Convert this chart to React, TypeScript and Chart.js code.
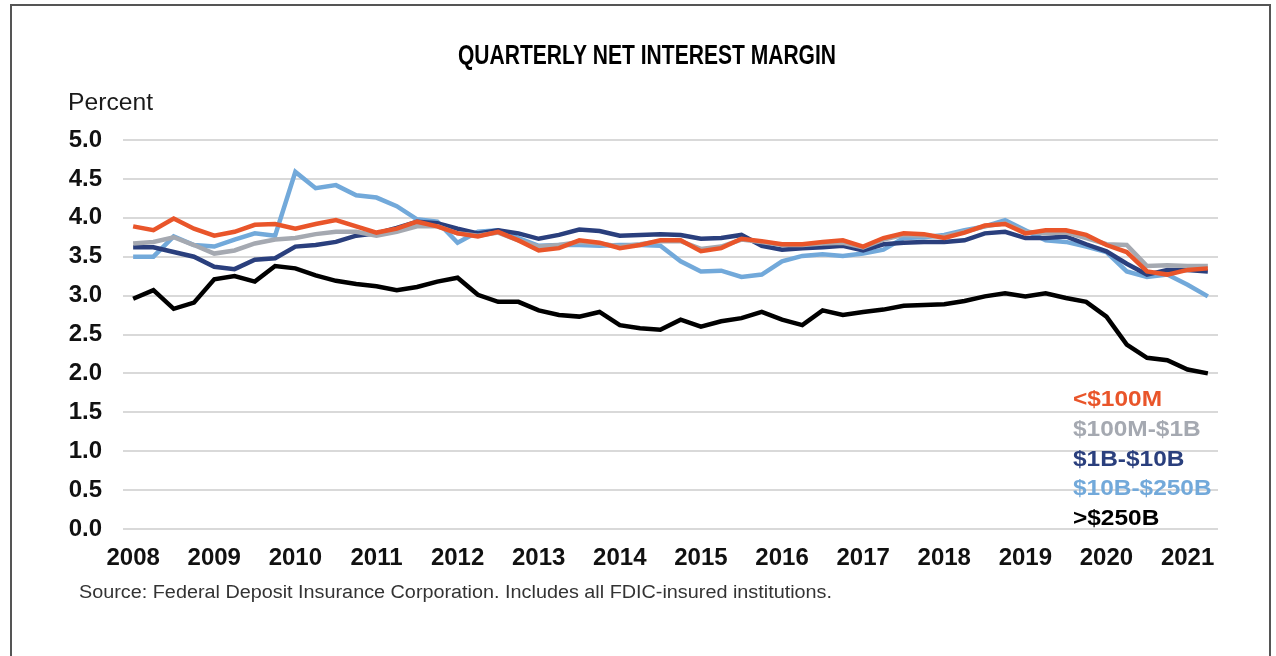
import React, { useEffect, useRef } from "react";
import { Chart, registerables } from "chart.js";

Chart.register(...registerables);

const titleText = "QUARTERLY NET INTEREST MARGIN";
const yAxisTitle = "Percent";
const sourceText = "Source: Federal Deposit Insurance Corporation. Includes all FDIC-insured institutions.";

const years = ["2008", "2009", "2010", "2011", "2012", "2013", "2014", "2015", "2016", "2017", "2018", "2019", "2020", "2021"];
const quarterNames = ["Q1", "Q2", "Q3", "Q4"];
const quarterCount = 54;

const yTicks = [0, 0.5, 1, 1.5, 2, 2.5, 3, 3.5, 4, 4.5, 5];

const seriesNames = ["<$100M", "$100M-$1B", "$1B-$10B", "$10B-$250B", ">$250B"];
const seriesColors = ["#E9552A", "#A5A9B1", "#2A3F7D", "#72A9DA", "#000000"];

const under100M = [
  3.89, 3.84, 3.99, 3.86, 3.77, 3.82, 3.91, 3.92, 3.86, 3.92, 3.97, 3.89, 3.81, 3.86,
  3.95, 3.89, 3.80, 3.76, 3.82, 3.71, 3.58, 3.61, 3.71, 3.68, 3.61, 3.65, 3.71, 3.71,
  3.57, 3.61, 3.73, 3.70, 3.66, 3.66, 3.69, 3.71, 3.63, 3.74, 3.80, 3.79, 3.74, 3.81,
  3.90, 3.92, 3.80, 3.84, 3.84, 3.78, 3.65, 3.56, 3.31, 3.27, 3.33, 3.35,
];
const from100Mto1B = [
  3.67, 3.69, 3.75, 3.65, 3.54, 3.58, 3.67, 3.72, 3.74, 3.79, 3.82, 3.82, 3.77, 3.82,
  3.89, 3.89, 3.80, 3.77, 3.81, 3.71, 3.63, 3.65, 3.69, 3.67, 3.63, 3.66, 3.70, 3.70,
  3.60, 3.63, 3.72, 3.69, 3.65, 3.65, 3.67, 3.68, 3.62, 3.72, 3.78, 3.77, 3.76, 3.82,
  3.89, 3.93, 3.82, 3.80, 3.81, 3.74, 3.66, 3.65, 3.38, 3.39, 3.38, 3.38,
];
const from1Bto10B = [
  3.62, 3.62, 3.56, 3.50, 3.37, 3.34, 3.46, 3.48, 3.63, 3.65, 3.69, 3.77, 3.80, 3.87,
  3.95, 3.93, 3.86, 3.80, 3.84, 3.80, 3.73, 3.78, 3.85, 3.83, 3.77, 3.78, 3.79, 3.78,
  3.73, 3.74, 3.78, 3.64, 3.59, 3.61, 3.62, 3.64, 3.58, 3.66, 3.68, 3.69, 3.69, 3.71,
  3.80, 3.82, 3.74, 3.74, 3.76, 3.66, 3.57, 3.41, 3.27, 3.33, 3.33, 3.31,
];
const from10Bto250B = [
  3.50, 3.50, 3.76, 3.65, 3.63, 3.72, 3.80, 3.77, 4.59, 4.38, 4.42, 4.29, 4.26, 4.15,
  3.98, 3.95, 3.68, 3.82, 3.84, 3.74, 3.64, 3.65, 3.65, 3.64, 3.65, 3.65, 3.64, 3.44,
  3.31, 3.32, 3.24, 3.27, 3.44, 3.51, 3.53, 3.51, 3.54, 3.59, 3.74, 3.75, 3.78, 3.84,
  3.89, 3.97, 3.84, 3.71, 3.69, 3.63, 3.56, 3.31, 3.24, 3.27, 3.14, 2.99,
];
const over250B = [
  2.96, 3.07, 2.83, 2.91, 3.21, 3.25, 3.18, 3.38, 3.35, 3.26, 3.19, 3.15, 3.12, 3.07,
  3.11, 3.18, 3.23, 3.01, 2.92, 2.92, 2.81, 2.75, 2.73, 2.79, 2.62, 2.58, 2.56, 2.69,
  2.60, 2.67, 2.71, 2.79, 2.69, 2.62, 2.81, 2.75, 2.79, 2.82, 2.87, 2.88, 2.89, 2.93,
  2.99, 3.03, 2.99, 3.03, 2.97, 2.92, 2.73, 2.37, 2.20, 2.17, 2.05, 2.00,
];

const seriesValues = [under100M, from100Mto1B, from1Bto10B, from10Bto250B, over250B];

const quarterLabels: string[] = [];
years.forEach((y) => quarterNames.forEach((q) => quarterLabels.push(`${y} ${q}`)));
const labels = quarterLabels.slice(0, quarterCount);

const FONT = "'Liberation Sans', Arial, Helvetica, sans-serif";

function drawScaledText(
  ctx: CanvasRenderingContext2D,
  text: string,
  x: number,
  y: number,
  scaleX: number,
  align: CanvasTextAlign
) {
  ctx.save();
  ctx.textAlign = align;
  ctx.textBaseline = "middle";
  ctx.translate(x, y);
  ctx.scale(scaleX, 1);
  ctx.fillText(text, 0, 0);
  ctx.restore();
}

const decorPlugin = {
  id: "decor",
  beforeDraw(chart: any) {
    const ctx = chart.ctx as CanvasRenderingContext2D;
    ctx.save();
    ctx.fillStyle = "#ffffff";
    ctx.fillRect(0, 0, chart.width, chart.height);
    ctx.strokeStyle = "#555555";
    ctx.lineWidth = 2;
    ctx.beginPath();
    ctx.moveTo(11, chart.height + 5);
    ctx.lineTo(11, 5);
    ctx.lineTo(1270, 5);
    ctx.lineTo(1270, chart.height + 5);
    ctx.stroke();
    ctx.restore();
  },
  afterDraw(chart: any) {
    const ctx = chart.ctx as CanvasRenderingContext2D;
    ctx.save();
    // Title (condensed bold)
    ctx.font = `bold 27px ${FONT}`;
    ctx.fillStyle = "#000000";
    const tw = ctx.measureText(titleText).width;
    drawScaledText(ctx, titleText, 647, 57, 378 / tw, "center");

    ctx.font = `24px ${FONT}`;
    ctx.fillStyle = "#1a1a1a";
    const pw = ctx.measureText(yAxisTitle).width;
    drawScaledText(ctx, yAxisTitle, 68, 103, 85 / pw, "left");

    ctx.font = `18px ${FONT}`;
    ctx.fillStyle = "#333333";
    const sw = ctx.measureText(sourceText).width;
    drawScaledText(ctx, sourceText, 79, 593, 753 / sw, "left");

    // Legend as coloured text
    ctx.font = `bold 22px ${FONT}`;
    const lw = ctx.measureText(seriesNames[0]).width;
    const lsx = 89 / lw;
    const legendY = [400, 430, 460, 489, 519];
    seriesNames.forEach((name, i) => {
      ctx.fillStyle = seriesColors[i];
      drawScaledText(ctx, name, 1073, legendY[i], lsx, "left");
    });
    ctx.restore();
  },
};

export default function App() {
  const canvasRef = useRef<HTMLCanvasElement | null>(null);

  useEffect(() => {
    if (!canvasRef.current) return;
    const datasets = seriesNames.map((name, i) => ({
      label: name,
      data: seriesValues[i],
      borderColor: seriesColors[i],
      backgroundColor: seriesColors[i],
      borderWidth: 4.5,
      pointRadius: 0,
      tension: 0,
      fill: false,
    }));
    const chart = new Chart(canvasRef.current, {
      type: "line",
      data: { labels, datasets },
      plugins: [decorPlugin],
      options: {
        animation: false,
        responsive: true,
        maintainAspectRatio: false,
        layout: { padding: { top: 140, left: 60, right: 58, bottom: 60 } },
        plugins: {
          legend: { display: false },
          title: { display: false },
          tooltip: { enabled: false },
        },
        scales: {
          x: {
            type: "category",
            offset: true,
            grid: { display: false, drawTicks: false },
            border: { display: false },
            afterFit(scale: any) {
              scale.height = 67;
            },
            ticks: {
              autoSkip: false,
              maxRotation: 0,
              minRotation: 0,
              padding: 15,
              color: "#111111",
              font: { family: FONT, size: 24, weight: "bold" },
              callback(_v: any, index: number) {
                return index % 4 === 0 ? years[index / 4] : "";
              },
            },
          },
          y: {
            min: 0,
            max: 5,
            afterBuildTicks(scale: any) {
              scale.ticks = yTicks.map((v) => ({ value: v }));
            },
            afterFit(scale: any) {
              scale.width = 63;
            },
            grid: { color: "#d9d9d9", lineWidth: 2, drawTicks: false },
            border: { display: false },
            ticks: {
              padding: 21,
              color: "#111111",
              font: { family: FONT, size: 24, weight: "bold" },
              callback(v: any) {
                return Number(v).toFixed(1);
              },
            },
          },
        },
      },
    });
    return () => chart.destroy();
  }, []);

  return (
    <div style={{ position: "fixed", left: 0, top: 0, width: 1276, height: 656, background: "#fff" }}>
      <canvas ref={canvasRef} />
    </div>
  );
}
